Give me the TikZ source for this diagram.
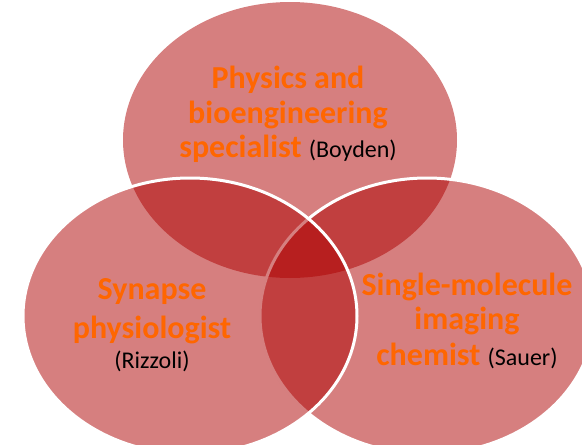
\documentclass[tikz,border=0pt]{standalone}
\usepackage{fontspec}
\setmainfont{Carlito}
\definecolor{vennred}{RGB}{173,0,0}
\definecolor{labelorange}{RGB}{255,102,0}
\newcommand{\whoname}[1]{{\mdseries\fontsize{24}{28}\selectfont\textcolor{black}{#1}}}
\begin{document}
\begin{tikzpicture}[x=1pt,y=-1pt,
  venn/.style={fill=vennred, fill opacity=0.5},
  vennline/.style={draw=white, line width=3pt},
  role/.style={font=\bfseries\fontsize{32}{38}\selectfont, text=labelorange, anchor=base, inner sep=0pt},
  who/.style={font=\fontsize{24}{28}\selectfont, text=black, anchor=base, inner sep=0pt}]
\useasboundingbox (0,0) rectangle (582,445);
\clip (0,0) rectangle (582,445);
% circles
\path[venn] (290,140) ellipse [x radius=167pt, y radius=138pt];
\path[venn, vennline] (427,316) ellipse [x radius=167pt, y radius=138pt];
\path[venn, vennline] (190,316) ellipse [x radius=167pt, y radius=138pt];
% top label
\node[role] (t1) at (288,88) {Physics and};
\node[role] (t2) at (288,123) {bioengineering};
\node[role] (t3) at (288,157) {specialist \whoname{(Boyden)}};
% left label
\node[role] (l1) at (152,299) {Synapse};
\node[role] (l2) at (152,338) {physiologist};
\node[who] (l3) at (152,368) {(Rizzoli)};
% right label
\node[role] (r1) at (467,295) {Single-molecule};
\node[role] (r2) at (467,329) {imaging};
\node[role] (r3) at (467,365) {chemist \whoname{(Sauer)}};
\end{tikzpicture}
\end{document}
